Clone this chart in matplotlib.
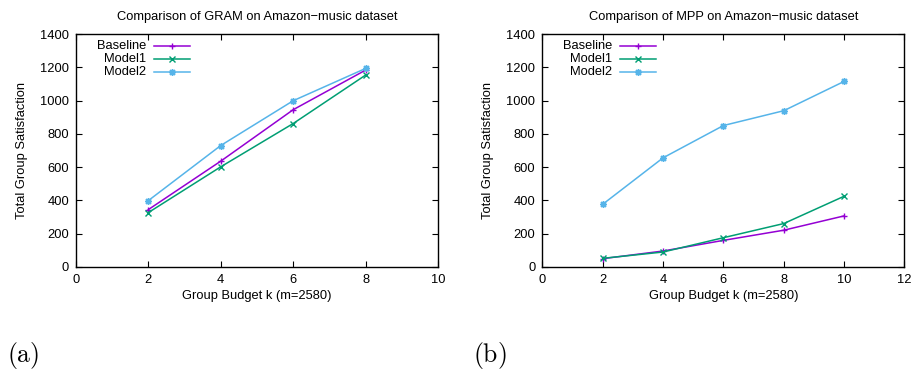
import matplotlib
matplotlib.use("Agg")
import matplotlib.pyplot as plt

# === data ===
labels = ["Baseline", "Model1", "Model2"]

k_gram = [2, 4, 6, 8]
gram_baseline = [345, 636, 945, 1183]
gram_model1 = [327, 602, 862, 1153]
gram_model2 = [399, 730, 999, 1193]

k_mpp = [2, 4, 6, 8, 10]
mpp_baseline = [50, 96, 160, 221, 307]
mpp_model1 = [52, 90, 176, 261, 425]
mpp_model2 = [377, 656, 850, 939, 1115]

titles = ["Comparison of GRAM on Amazon\u2212music dataset",
          "Comparison of MPP on Amazon\u2212music dataset"]

# gnuplot-ish styling
colors = ["#9400d3", "#009e73", "#56b4e9"]
markers = ["+", "x", (8, 2, 0)]
fs = 9.3
plt.rcParams["font.family"] = ["Liberation Sans", "DejaVu Sans"]
plt.rcParams["mathtext.fontset"] = "cm"

fig = plt.figure(figsize=(9.13, 3.70), dpi=100)
ax1 = fig.add_axes([0.0832, 0.2784, 0.3965, 0.6297])
ax2 = fig.add_axes([0.5941, 0.2784, 0.3965, 0.6297])

panels = [
    (ax1, k_gram, [gram_baseline, gram_model1, gram_model2], 10),
    (ax2, k_mpp, [mpp_baseline, mpp_model1, mpp_model2], 12),
]

for i, (ax, k, series, xmax) in enumerate(panels):
    for j, ys in enumerate(series):
        ax.plot(k, ys, color=colors[j], marker=markers[j], markersize=5,
                markeredgewidth=1.0, linewidth=1.1)
        # manual gnuplot-style legend: right aligned text, sample after it
        ly = 0.948 - j * 0.0565
        ax.text(0.193, ly, labels[j], transform=ax.transAxes, ha="right",
                va="center", fontsize=fs)
        ax.plot([0.215, 0.315], [ly, ly], transform=ax.transAxes,
                color=colors[j], linewidth=1.1)
        ax.plot([0.265], [ly], transform=ax.transAxes, color=colors[j],
                marker=markers[j], markersize=5, markeredgewidth=1.0)

    ax.set_xlim(0, xmax)
    ax.set_ylim(0, 1400)
    ax.set_xticks(range(0, xmax + 1, 2))
    ax.set_yticks(range(0, 1401, 200))
    ax.tick_params(direction="in", top=True, right=True, length=4,
                   width=0.8, labelsize=fs, pad=5)
    for s in ax.spines.values():
        s.set_linewidth(1.0)
    ax.set_title(titles[i], fontsize=fs, pad=10)
    ax.set_xlabel("Group Budget k (m=2580)", fontsize=fs, labelpad=3)
    ax.set_ylabel("Total Group Satisfaction", fontsize=fs, labelpad=9)

fig.text(0.0077, 0.0216, r"$\mathrm{(a)}$", fontsize=18.5, ha="left", va="baseline")
fig.text(0.518, 0.0216, r"$\mathrm{(b)}$", fontsize=18.5, ha="left", va="baseline")

fig.savefig("out.png", dpi=100)
